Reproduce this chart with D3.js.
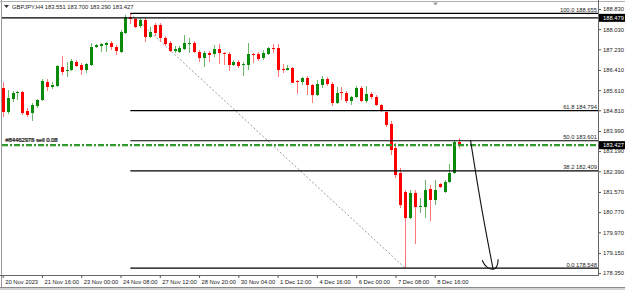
<!DOCTYPE html>
<html><head><meta charset="utf-8">
<script src="https://cdn.jsdelivr.net/npm/d3@7"></script>
<style>
body{margin:0;background:#fff;overflow:hidden;}
text{font-family:"Liberation Sans",Arial,sans-serif;}
</style></head><body>
<svg id="chart" width="625" height="290"></svg>
<script>
// H4 candles
let open_vals = [185.695,184.743,185.259,185.497,185.536,184.782,184.703,184.981,185.219,185.933,
	185.735,185.774,186.528,186.370,186.409,186.727,186.608,186.409,186.608,187.322,
	187.362,187.401,187.481,187.322,187.124,187.878,188.513,188.433,188.155,188.393,
	187.719,188.195,188.195,187.679,187.481,187.163,187.124,187.243,187.441,187.481,
	187.124,186.886,187.084,187.044,187.243,187.084,187.044,186.608,186.727,186.608,
	186.608,187.044,187.044,186.886,187.044,187.282,187.282,186.449,186.409,186.489,
	185.973,185.933,186.092,185.814,185.417,185.814,186.052,185.854,185.100,185.536,
	185.497,185.179,185.338,185.695,185.179,185.457,185.338,185.020,184.743,184.267,
	183.314,182.322,181.568,180.536,181.529,180.973,180.973,181.687,181.251,181.886,
	181.568,181.965,182.322,183.551];
let high_vals = [185.933,185.616,185.576,185.576,185.576,184.901,185.100,185.259,186.052,186.052,
	185.933,186.608,186.965,186.727,186.846,186.806,186.687,186.687,187.481,187.441,
	187.481,187.520,187.560,187.401,187.997,188.592,188.655,188.473,188.473,188.473,
	188.116,188.274,188.274,187.759,187.560,187.362,187.362,187.798,187.679,187.560,
	187.203,187.163,187.163,187.401,187.441,187.124,187.124,186.806,186.806,186.727,
	187.481,187.084,187.124,187.203,187.322,187.441,187.441,186.647,186.608,186.528,
	186.012,186.132,186.171,185.854,186.012,186.171,186.132,185.933,185.735,185.735,
	185.576,185.378,185.774,185.774,185.774,185.536,185.417,185.060,184.782,184.386,
	183.512,182.520,181.648,181.648,181.648,181.330,182.044,181.846,182.044,181.925,
	182.044,182.679,183.600,183.700];
let low_vals = [184.544,184.663,185.139,185.219,184.624,184.544,184.386,184.901,185.179,185.576,
	185.655,185.735,186.211,186.132,186.370,186.528,186.211,186.290,186.568,187.282,
	187.124,187.124,187.203,187.005,187.084,187.838,188.235,188.076,188.076,187.520,
	187.679,187.759,187.520,187.362,187.124,187.084,187.084,187.203,187.084,187.084,
	186.727,186.528,186.727,186.925,186.647,186.608,186.370,186.568,186.489,186.171,
	186.409,186.687,186.767,186.806,187.005,187.084,186.132,186.290,186.390,185.894,
	185.457,185.814,185.417,185.100,185.378,185.695,185.774,184.981,185.060,185.219,
	185.100,185.020,185.298,185.139,185.100,185.259,184.981,184.743,184.148,183.036,
	182.124,180.933,178.548,180.497,179.504,180.735,180.536,180.417,181.052,181.727,
	181.529,181.925,182.282,183.290];
let close_vals = [184.743,185.298,185.497,185.536,184.703,184.624,185.020,185.219,185.973,185.735,
	185.814,186.568,186.330,186.409,186.767,186.568,186.409,186.647,187.322,187.401,
	187.441,187.481,187.322,187.163,187.917,188.513,188.433,188.116,188.393,187.719,
	187.917,187.878,187.679,187.441,187.163,187.243,187.282,187.481,187.481,187.124,
	186.886,187.084,187.005,187.243,187.084,187.044,186.608,186.727,186.568,186.647,
	187.044,187.005,186.846,187.084,187.282,187.243,186.409,186.409,186.489,185.900,
	185.933,186.092,185.814,185.417,185.854,186.052,185.854,185.100,185.497,185.497,
	185.179,185.338,185.695,185.179,185.457,185.338,185.020,184.822,184.227,183.235,
	182.243,181.052,180.536,181.529,180.973,181.012,181.648,181.251,181.648,181.767,
	181.965,182.322,183.551,183.427];

let time_labels = ['20 Nov 2023','21 Nov 16:00','23 Nov 00:00','24 Nov 08:00','27 Nov 12:00','28 Nov 20:00',
	'30 Nov 04:00','1 Dec 12:00','4 Dec 16:00','6 Dec 00:00','7 Dec 08:00','8 Dec 16:00'];
let time_label_bars = [0,8,16,24,32,40,48,56,64,72,80,88];
let price_ticks = [188.830,188.030,187.230,186.410,185.610,184.810,183.990,183.190,182.390,181.570,180.770,179.970,179.150,178.350];

let fib_ratios = [100.0, 61.8, 50.0, 38.2, 0.0];
let fib_prices = [188.655, 184.794, 183.601, 182.409, 178.548];
let fib_from_bar = 26, fib_to_bar = 82;
let hline_price = 188.479;
let order_price = 183.427;
let order_names = ['#84462978 sell 0.08', '#84462979 sell 0.08'];
let arrow_from = [95.3, 183.62], arrow_to = [99.9, 178.50];
let title_text = 'GBPJPY,H4  183.551 183.700 183.290 183.427';

let W = 625, H = 290,
	plot = {left: 2, right: 598, top: 2, bottom: 275};
let font_size = 5.8;

let x = d3.scaleLinear().domain([0, 88]).range([2.7, 434.7]);
let y = d3.scaleLinear().domain([178.35, 188.83]).range([273.1, 9]);

let svg = d3.select('#chart');

svg.append('defs').append('clipPath').attr('id', 'plotclip')
	.append('rect')
	.attr('x', plot.left).attr('y', plot.top)
	.attr('width', plot.right - plot.left).attr('height', plot.bottom - plot.top);

// frame
svg.append('rect').attr('x', 0).attr('y', 0).attr('width', W).attr('height', H).attr('fill', '#fff');
svg.append('line').attr('x1', 1.5).attr('x2', 1.5).attr('y1', 0).attr('y2', 287)
	.style('stroke', '#9a9a9a');
svg.append('line').attr('x1', 0).attr('x2', W).attr('y1', 1.5).attr('y2', 1.5)
	.style('stroke', '#b0b0b0');
svg.append('rect').attr('x', 0).attr('y', 287).attr('width', W).attr('height', 3)
	.attr('fill', '#d4d4d4');
svg.append('line').attr('x1', 0).attr('x2', W).attr('y1', 287.5).attr('y2', 287.5)
	.style('stroke', '#8a8a8a');

let g = svg.append('g').attr('clip-path', 'url(#plotclip)');

// fib diagonal
g.append('line')
	.attr('x1', x(fib_from_bar)).attr('y1', y(fib_prices[0]))
	.attr('x2', x(fib_to_bar)).attr('y2', y(fib_prices[4]))
	.style('stroke', '#8c8c8c').style('stroke-width', 0.9)
	.style('stroke-dasharray', '2,2');

// candles
let bars = d3.range(open_vals.length);
let bull = '#0a8a0a', bear = '#ff0000';
g.selectAll('.wick').data(bars).enter().append('line')
	.attr('class', 'wick')
	.attr('x1', d => Math.round(x(d)) + 0.5).attr('x2', d => Math.round(x(d)) + 0.5)
	.attr('y1', d => y(high_vals[d])).attr('y2', d => y(low_vals[d]))
	.style('stroke', d => close_vals[d] >= open_vals[d] ? '#6cb86c' : '#f77')
	.style('stroke-width', 1);
g.selectAll('.body').data(bars).enter().append('rect')
	.attr('class', 'body')
	.attr('x', d => Math.round(x(d)) - 1)
	.attr('width', 3)
	.attr('y', d => y(Math.max(open_vals[d], close_vals[d])))
	.attr('height', d => Math.max(1, Math.abs(y(open_vals[d]) - y(close_vals[d]))))
	.attr('fill', d => close_vals[d] >= open_vals[d] ? bull : bear);

// horizontal line object
g.append('line')
	.attr('x1', plot.left).attr('x2', plot.right)
	.attr('y1', y(hline_price)).attr('y2', y(hline_price))
	.style('stroke', '#000').style('stroke-width', 1.4);

// fib levels
fib_prices.forEach((p, i) => {
	g.append('line')
		.attr('x1', x(fib_from_bar)).attr('x2', plot.right)
		.attr('y1', y(p)).attr('y2', y(p))
		.style('stroke', '#000').style('stroke-width', 1.2);
	g.append('text')
		.attr('x', plot.right - 1).attr('y', y(p) - 1.5)
		.attr('text-anchor', 'end')
		.style('font-size', font_size + 'px').style('fill', '#222')
		.text(`${fib_ratios[i].toFixed(1)} ${p.toFixed(3)}`);
});

// order line
g.append('line')
	.attr('x1', plot.left).attr('x2', plot.right)
	.attr('y1', y(order_price)).attr('y2', y(order_price))
	.style('stroke', '#2f9a2f').style('stroke-width', 2.4)
	.style('stroke-dasharray', '6,2,2,2');
order_names.forEach((t, i) => {
	g.append('text')
		.attr('x', 5 + i * 0.8).attr('y', y(order_price) - 3 - i * 0.6)
		.style('font-size', font_size + 'px').style('fill', '#222')
		.text(t);
});

// hand-drawn arrow
let ax0 = x(arrow_from[0]), ay0 = y(arrow_from[1]),
	ax1 = x(arrow_to[0]), ay1 = y(arrow_to[1]);
g.append('path')
	.attr('d', d3.line().curve(d3.curveBasis)([[ax0, ay0], [ax0 + (ax1 - ax0) * 0.45, ay0 + (ay1 - ay0) * 0.5], [ax1, ay1]]))
	.style('fill', 'none').style('stroke', '#111').style('stroke-width', 1.1);
g.append('path')
	.attr('d', `M${ax1 - 11},${ay1 - 9} Q${ax1 - 7},${ay1} ${ax1},${ay1} Q${ax1 + 5},${ay1 - 1} ${ax1 + 5},${ay1 - 10}`)
	.style('fill', 'none').style('stroke', '#111').style('stroke-width', 1.1);

// title
svg.append('path').attr('d', 'M4,5 L9,5 L6.5,8 Z').attr('fill', '#333');
svg.append('text').attr('x', 12).attr('y', 8.5)
	.style('font-size', font_size + 'px').style('fill', '#222')
	.text(title_text);
// chart shift marker
svg.append('path').attr('d', 'M433,2.5 L438,2.5 L435.5,5.5 Z').attr('fill', '#9a9a9a');

// price axis
let yAxis = d3.axisRight(y).tickValues(price_ticks).tickSize(3).tickPadding(2)
	.tickFormat(d3.format('.3f'));
let ya = svg.append('g').attr('transform', `translate(${plot.right},0)`).call(yAxis);
ya.select('.domain').remove();
ya.selectAll('text').style('font-size', font_size + 'px').style('fill', '#222')
	.style('font-family', '"Liberation Sans",Arial,sans-serif');
ya.selectAll('line').style('stroke', '#555');
svg.append('line').attr('x1', plot.right + 0.5).attr('x2', plot.right + 0.5)
	.attr('y1', 0).attr('y2', plot.bottom + 1).style('stroke', '#666');

// highlighted price labels
[hline_price, order_price].forEach(p => {
	svg.append('rect').attr('x', plot.right + 1).attr('y', y(p) - 4).attr('width', W - plot.right - 1).attr('height', 8)
		.attr('fill', '#000');
	svg.append('text').attr('x', plot.right + 5).attr('y', y(p) + 2.1)
		.style('font-size', font_size + 'px').style('fill', '#fff')
		.text(p.toFixed(3));
});

// time axis
let xAxis = d3.axisBottom(x).tickValues(time_label_bars).tickSize(3).tickPadding(1)
	.tickFormat((d, i) => time_labels[i]);
let xa = svg.append('g').attr('transform', `translate(0,${plot.bottom})`).call(xAxis);
xa.select('.domain').remove();
xa.selectAll('text').attr('text-anchor', 'start').attr('x', 2).attr('dy', '0.9em')
	.style('font-size', font_size + 'px').style('fill', '#222')
	.style('font-family', '"Liberation Sans",Arial,sans-serif');
xa.selectAll('line').style('stroke', '#555');
svg.append('line').attr('x1', 0).attr('x2', plot.right + 1)
	.attr('y1', plot.bottom + 0.5).attr('y2', plot.bottom + 0.5).style('stroke', '#666');
</script>
</body></html>
